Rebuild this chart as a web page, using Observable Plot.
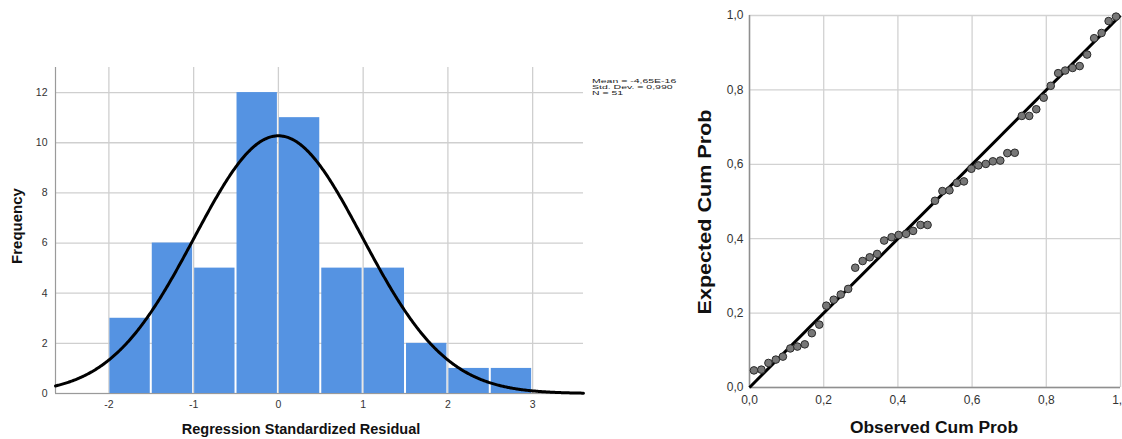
<!DOCTYPE html>
<html><head><meta charset="utf-8">
<script src="https://cdn.jsdelivr.net/npm/d3@7"></script>
<script src="https://cdn.jsdelivr.net/npm/@observablehq/plot@0.6"></script>
<style>
body{margin:0;background:#fff;}
#wrap{position:relative;width:1122px;height:439px;overflow:hidden;background:#fff;}
#left{position:absolute;left:0;top:0;}
#right{position:absolute;left:690px;top:0;}
svg text{font-family:"Liberation Sans",Arial,sans-serif;}
</style></head><body><div id="wrap"><div id="left"></div><div id="right"></div></div>
<script>
// ---------- Histogram data ----------
const binStarts = [-2, -1.5, -1, -0.5, 0, 0.5, 1, 1.5, 2, 2.5];
const binWidth = 0.5;
const frequencies = [3, 6, 5, 12, 11, 5, 5, 2, 1, 1];
const residualMean = -4.65e-16;
const residualSD = 0.990;
const residualN = 51;
const statsLines = ["Mean = -4,65E-16", "Std. Dev. = 0,990", "N = 51"];
const histXTicks = [-2, -1, 0, 1, 2, 3];
const histYTicks = [0, 2, 4, 6, 8, 10, 12];
const histXTitle = "Regression Standardized Residual";
const histYTitle = "Frequency";

// ---------- P-P plot data ----------
const observedCumProb = [0.012,0.032,0.051,0.071,0.090,0.110,0.129,0.149,0.168,0.188,0.207,0.227,0.246,0.266,0.285,0.305,0.324,0.344,0.363,0.383,0.402,0.422,0.441,0.461,0.480,0.500,0.520,0.539,0.559,0.578,0.598,0.617,0.637,0.656,0.676,0.695,0.715,0.734,0.754,0.773,0.793,0.812,0.832,0.851,0.871,0.890,0.910,0.929,0.949,0.968,0.988];
const expectedCumProb = [0.046,0.048,0.066,0.075,0.083,0.105,0.110,0.116,0.146,0.169,0.220,0.236,0.250,0.265,0.322,0.340,0.350,0.359,0.395,0.404,0.410,0.413,0.421,0.437,0.437,0.502,0.528,0.530,0.550,0.554,0.588,0.597,0.601,0.608,0.610,0.630,0.631,0.730,0.730,0.748,0.779,0.811,0.845,0.852,0.859,0.864,0.895,0.939,0.953,0.985,0.997];
const ppTicks = [0, 0.2, 0.4, 0.6, 0.8, 1];
const ppXTitle = "Observed Cum Prob";
const ppYTitle = "Expected Cum Prob";

// ---------- Left: histogram ----------
const histData = binStarts.map((s, i) => ({x1: s, x2: s + binWidth, count: frequencies[i]}));
const xDomain = [-2.63, 3.6];
const curveXs = d3.range(xDomain[0], xDomain[1] + 0.005, 0.01);
const normalPdf = x => Math.exp(-0.5 * ((x - residualMean) / residualSD) ** 2) / (residualSD * Math.sqrt(2 * Math.PI));

const left = Plot.plot({
  width: 690, height: 439,
  marginLeft: 55, marginRight: 107, marginTop: 67, marginBottom: 46,
  style: {fontSize: "10.5px", color: "#333", background: "transparent", fontFamily: "Liberation Sans, Arial, sans-serif"},
  x: {domain: xDomain, ticks: histXTicks, tickSize: 0, tickPadding: 7, tickFormat: d => d < 0 ? "-" + Math.abs(d) : String(d), label: null},
  y: {domain: [0, 13], ticks: histYTicks, tickSize: 0, tickPadding: 8, label: null},
  marks: [
    Plot.gridX(histXTicks, {stroke: "#cfcfcf", strokeOpacity: 1, strokeWidth: 1.3}),
    Plot.gridY(histYTicks, {stroke: "#cfcfcf", strokeOpacity: 1, strokeWidth: 1.3}),
    Plot.rectY(histData, {x1: "x1", x2: "x2", y: "count", fill: "#5593e2", insetLeft: 1, insetRight: 1}),
    Plot.ruleX([xDomain[0]], {stroke: "#9a9a9a", strokeWidth: 1.2}),
    Plot.ruleY([0], {stroke: "#9a9a9a", strokeWidth: 1.2}),
    Plot.line(curveXs, {x: d => d, y: d => residualN * binWidth * normalPdf(d), stroke: "#000", strokeWidth: 3})
  ]
});
document.getElementById("left").appendChild(left);
{
  const svg = d3.select(left);
  svg.append("text").text(histXTitle)
    .attr("x", 301).attr("y", 430).attr("text-anchor", "middle").attr("dominant-baseline", "middle")
    .attr("font-weight", "bold").attr("font-size", 14.5).attr("fill", "#111");
  svg.append("text").text(histYTitle)
    .attr("transform", "translate(18,226) rotate(-90)").attr("text-anchor", "middle").attr("dominant-baseline", "middle")
    .attr("font-weight", "bold").attr("font-size", 15).attr("fill", "#111");
  const g = svg.append("g").attr("transform", "translate(592,81) scale(1,0.56)").attr("text-anchor", "start");
  statsLines.forEach((s, i) => {
    g.append("text").text(s).attr("x", 0).attr("y", i * 11.1).attr("text-anchor", "start")
      .attr("dominant-baseline", "middle").attr("font-size", 10.5).attr("fill", "#222");
  });
}

// ---------- Right: P-P plot ----------
const ppData = observedCumProb.map((x, i) => ({x, y: expectedCumProb[i]}));
const commaFmt = d => d3.format(".1f")(d).replace(".", ",");
const right = Plot.plot({
  width: 432, height: 439,
  marginLeft: 59, marginRight: 2, marginTop: 15, marginBottom: 52,
  style: {fontSize: "12px", color: "#333", background: "transparent", fontFamily: "Liberation Sans, Arial, sans-serif"},
  x: {domain: [0, 1], ticks: ppTicks, tickSize: 0, tickPadding: 8, tickFormat: commaFmt, label: null},
  y: {domain: [0, 1], ticks: ppTicks, tickSize: 0, tickPadding: 6, tickFormat: commaFmt, label: null},
  marks: [
    Plot.gridX(ppTicks, {stroke: "#d2d2d2", strokeOpacity: 1, strokeWidth: 1.3}),
    Plot.gridY(ppTicks, {stroke: "#d2d2d2", strokeOpacity: 1, strokeWidth: 1.3}),
    Plot.ruleX([0], {stroke: "#8f8f8f", strokeWidth: 1.5}),
    Plot.ruleY([0], {stroke: "#8f8f8f", strokeWidth: 1.5}),
    Plot.link([{x1: 0, y1: 0, x2: 1, y2: 1}], {x1: "x1", y1: "y1", x2: "x2", y2: "y2", stroke: "#000", strokeWidth: 3}),
    Plot.dot(ppData, {x: "x", y: "y", r: 3.8, fill: "#777", stroke: "#2a2a2a", strokeWidth: 1})
  ]
});
document.getElementById("right").appendChild(right);
{
  const svg = d3.select(right);
  svg.append("text").text(ppXTitle)
    .attr("x", 244).attr("y", 428).attr("text-anchor", "middle").attr("dominant-baseline", "middle")
    .attr("font-weight", "bold").attr("font-size", 17.4).attr("fill", "#111");
  svg.append("text").text(ppYTitle)
    .attr("transform", "translate(16,212) rotate(-90)").attr("text-anchor", "middle").attr("dominant-baseline", "middle")
    .attr("font-weight", "bold").attr("font-size", 18).attr("textLength", 205).attr("lengthAdjust", "spacingAndGlyphs").attr("fill", "#111");
}
</script></body></html>
